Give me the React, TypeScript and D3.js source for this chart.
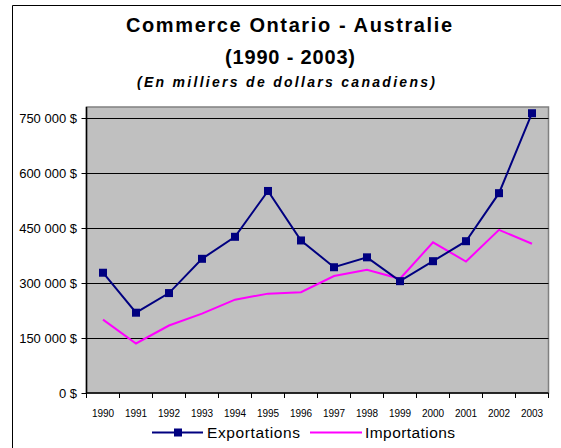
import React from "react";
import * as d3 from "d3";

const years = ["1990","1991","1992","1993","1994","1995","1996","1997","1998","1999","2000","2001","2002","2003"];
const exportations = [328000, 219000, 272500, 366000, 426000, 551000, 416000, 343000, 370000, 305000, 359500, 414000, 545000, 763000];
const importations = [200000, 135000, 184000, 216500, 254500, 271000, 275000, 319000, 336000, 311500, 411000, 358500, 445000, 407000];
const yTicks = [0, 150000, 300000, 450000, 600000, 750000];
const titleLines = ["Commerce Ontario - Australie", "(1990 - 2003)", "(En milliers de dollars canadiens)"];
const seriesNames = ["Exportations", "Importations"];

const W = 561, H = 448;
const plot = { left: 86.5, right: 548.5, top: 107, bottom: 393 };

export default function App() {
  const x = d3.scaleBand<string>().domain(years).range([plot.left, plot.right]).padding(0);
  const y = d3.scaleLinear().domain([0, 780000]).range([plot.bottom, plot.top]);
  const cx = (yr: string) => (x(yr) as number) + x.bandwidth() / 2;
  const line = d3.line<number>().x((_, i) => cx(years[i])).y((v) => y(v));
  const fmt = (v: number) => (v === 0 ? "0 $" : d3.format(",")(v).replace(/,/g, " ") + " $");
  const font = "'Liberation Sans', Arial, sans-serif";

  return (
    <svg width={W} height={H} style={{ position: "absolute", left: 0, top: 0, background: "#fff" }} fontFamily={font}>
      <rect x={0} y={0} width={W} height={H} fill="#fff" />
      {/* outer frame */}
      <line x1={12.5} y1={5.5} x2={W} y2={5.5} stroke="#000" strokeWidth={1} />
      <line x1={12.5} y1={5.5} x2={12.5} y2={H} stroke="#000" strokeWidth={1} />

      {/* titles */}
      <text x={289} y={32} textAnchor="middle" fontSize={20} fontWeight="bold" textLength={326} lengthAdjust="spacing">{titleLines[0]}</text>
      <text x={290} y={64} textAnchor="middle" fontSize={20} fontWeight="bold" textLength={130} lengthAdjust="spacing">{titleLines[1]}</text>
      <text x={286} y={86.5} textAnchor="middle" fontSize={14} fontWeight="bold" fontStyle="italic" textLength={298} lengthAdjust="spacing">{titleLines[2]}</text>

      {/* plot area */}
      <rect x={plot.left} y={plot.top} width={plot.right - plot.left} height={plot.bottom - plot.top} fill="#C0C0C0" stroke="#808080" strokeWidth={1.5} />
      {yTicks.filter((t) => t > 0).map((t) => (
        <line key={t} x1={plot.left} x2={plot.right} y1={Math.round(y(t)) + 0.5} y2={Math.round(y(t)) + 0.5} stroke="#000" strokeWidth={1} />
      ))}
      {/* axes */}
      <line x1={plot.left} x2={plot.left} y1={plot.top} y2={plot.bottom} stroke="#000" strokeWidth={1.5} />
      <line x1={plot.left} x2={plot.right} y1={plot.bottom} y2={plot.bottom} stroke="#000" strokeWidth={1.5} />
      {yTicks.map((t) => (
        <g key={t}>
          <line x1={plot.left - 5} x2={plot.left} y1={Math.round(y(t)) + 0.5} y2={Math.round(y(t)) + 0.5} stroke="#000" strokeWidth={1} />
          <text x={77} y={y(t) + 4.5} textAnchor="end" fontSize={13}>{fmt(t)}</text>
        </g>
      ))}
      {years.map((yr) => (
        <line key={"t" + yr} x1={x(yr) as number} x2={x(yr) as number} y1={plot.bottom} y2={plot.bottom + 5} stroke="#000" strokeWidth={1} />
      ))}
      <line x1={plot.right} x2={plot.right} y1={plot.bottom} y2={plot.bottom + 5} stroke="#000" strokeWidth={1} />
      {years.map((yr) => (
        <text key={"l" + yr} x={cx(yr)} y={416.5} textAnchor="middle" fontSize={10}>{yr}</text>
      ))}

      {/* series */}
      <path d={line(importations) || ""} fill="none" stroke="#FF00FF" strokeWidth={2} />
      <path d={line(exportations) || ""} fill="none" stroke="#000080" strokeWidth={2} />
      {exportations.map((v, i) => (
        <rect key={"m" + i} x={cx(years[i]) - 4} y={y(v) - 4} width={8} height={8} fill="#000080" />
      ))}

      {/* legend */}
      <line x1={152} x2={203} y1={432.5} y2={432.5} stroke="#000080" strokeWidth={2} />
      <rect x={174} y={428.5} width={8} height={8} fill="#000080" />
      <text x={207} y={438} fontSize={15.5} textLength={93} lengthAdjust="spacing">{seriesNames[0]}</text>
      <line x1={310} x2={362} y1={432.5} y2={432.5} stroke="#FF00FF" strokeWidth={2} />
      <text x={365} y={438} fontSize={15.5} textLength={90} lengthAdjust="spacing">{seriesNames[1]}</text>
    </svg>
  );
}
